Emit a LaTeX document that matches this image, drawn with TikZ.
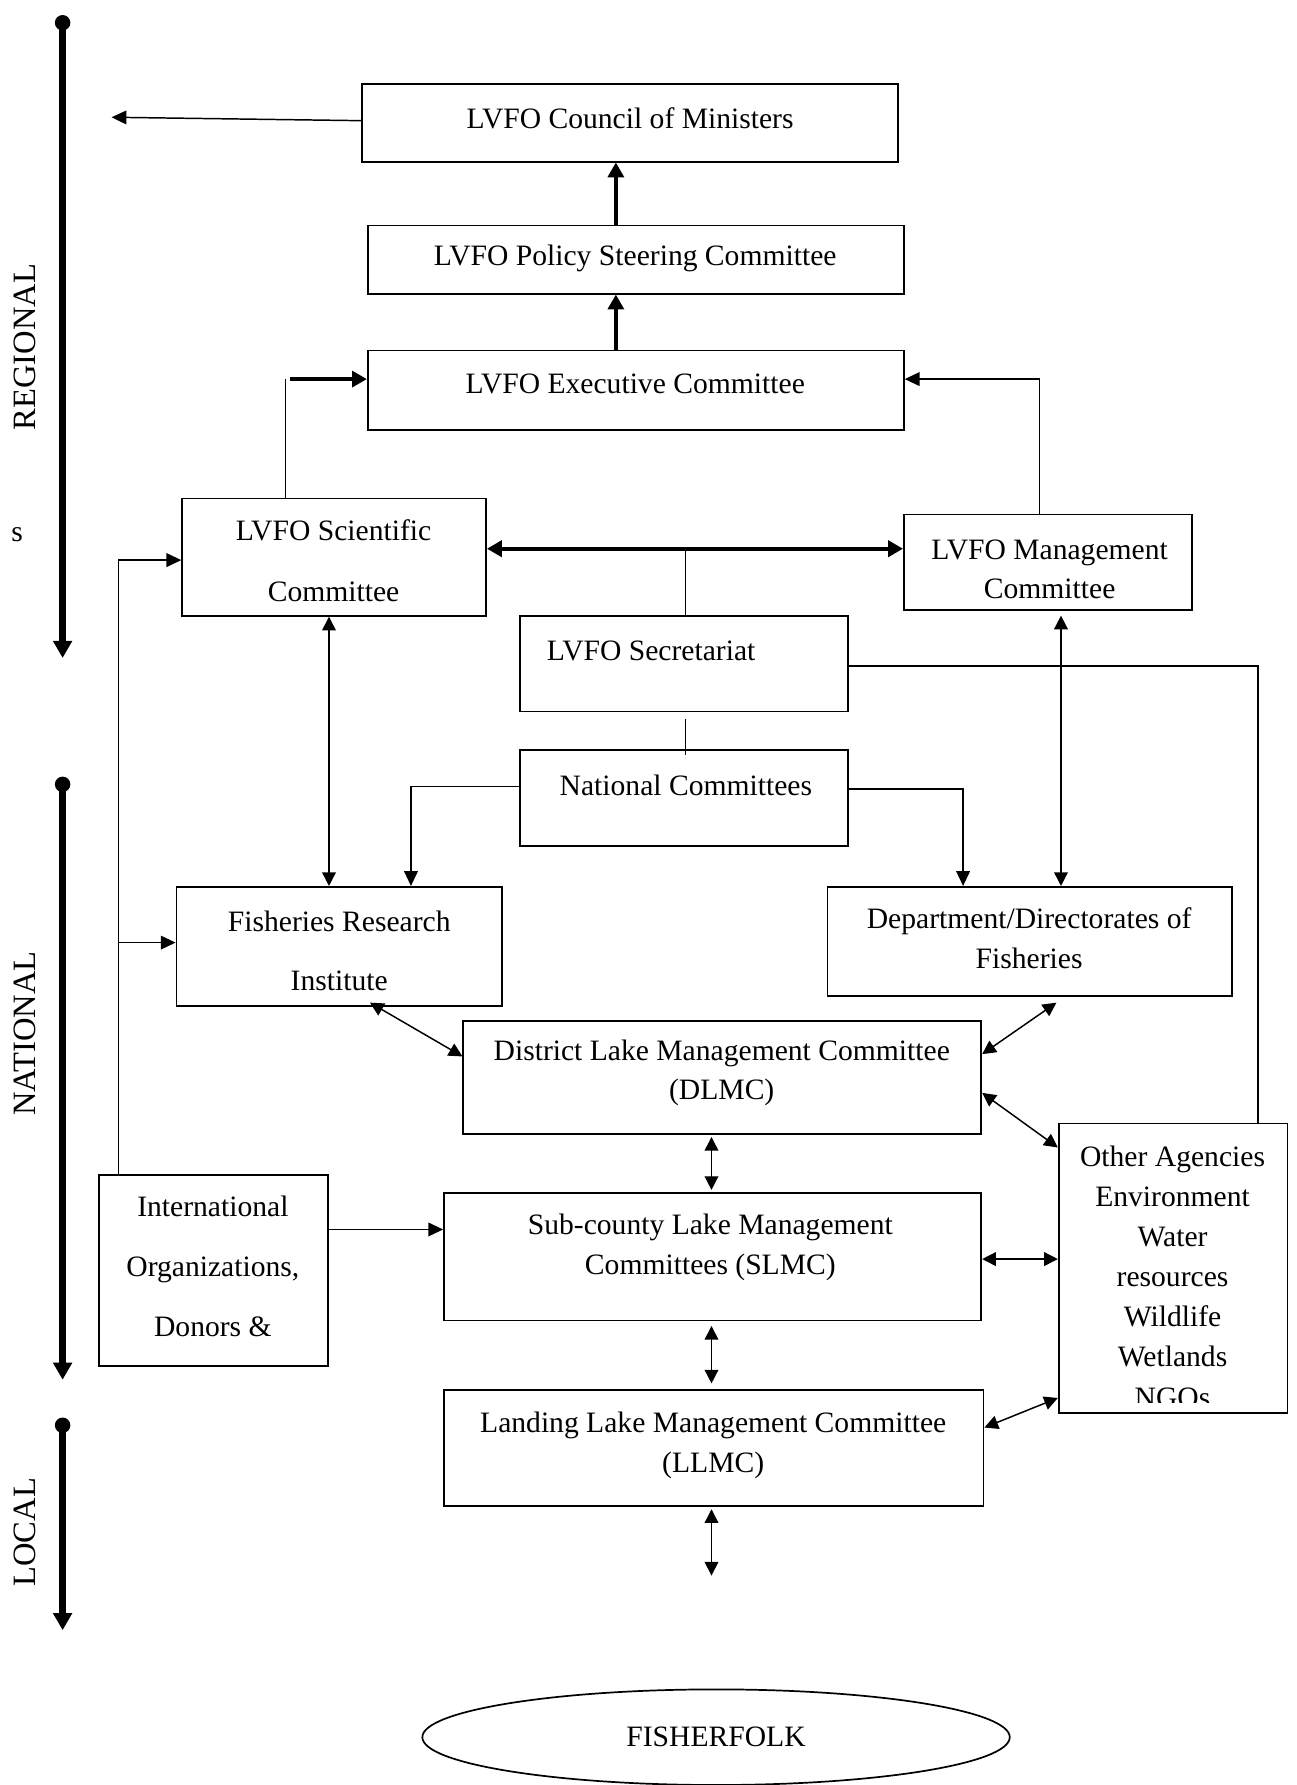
\documentclass[tikz,border=0pt]{standalone}
\usepackage{fontspec}
\setmainfont{Liberation Serif}
\usetikzlibrary{arrows.meta,shapes.geometric}
\begin{document}
\begin{tikzpicture}[x=0.5pt,y=-0.5pt,
  box/.style={draw, line width=0.75pt, inner sep=0pt},
  txt/.style={inner sep=0pt, align=center, font=\fontsize{13}{17.5}\selectfont},
  conn/.style={line width=0.65pt},
  arr/.style={conn, -{Triangle[length=6.5pt,width=6pt]}},
  darr/.style={conn, {Triangle[length=6pt,width=6pt]}-{Triangle[length=6pt,width=6pt]}},
  tarr/.style={line width=1.5pt, -{Triangle[length=6.5pt,width=7pt]}},
  tdarr/.style={line width=1.75pt, {Triangle[length=6.5pt,width=7pt]}-{Triangle[length=6.5pt,width=7pt]}},
  axis/.style={line width=2.9pt, -{Triangle[length=7.5pt,width=8pt]}},
  dot/.style={circle, fill, inner sep=0pt, minimum size=6.8pt},
  lvl/.style={rotate=90, inner sep=0pt, font=\fontsize{14.3}{17}\selectfont},
]
\useasboundingbox (0,0) rectangle (1139,1568);

% ---- level axes ----
\node[dot] (regTop) at (55,20) {};
\coordinate (regEnd) at (55,578);
\draw[axis] (regTop.center) -- (regEnd);
\node[lvl] (regLbl) at (22,305) {REGIONAL};
\node[txt] (sLbl) at (15,470) {s};

\node[dot] (natTop) at (55,689) {};
\coordinate (natEnd) at (55,1212);
\draw[axis] (natTop.center) -- (natEnd);
\node[lvl] (natLbl) at (22,908) {NATIONAL};

\node[dot] (locTop) at (55,1252) {};
\coordinate (locEnd) at (55,1432);
\draw[axis] (locTop.center) -- (locEnd);
\node[lvl] (locLbl) at (22,1346) {LOCAL};

% ---- boxes ----
\node[box, minimum width=235.5pt, minimum height=34pt] (council) at (553.5,108) {};
\node[box, minimum width=235.5pt, minimum height=30pt] (policy) at (558.5,228) {};
\node[box, minimum width=235.5pt, minimum height=35pt] (exec) at (558.5,343) {};
\node[box, minimum width=133.5pt, minimum height=51.5pt] (sci) at (293.5,489.5) {};
\node[box, minimum width=126.5pt, minimum height=42pt] (mgmt) at (920.5,494) {};
\node[box, minimum width=144pt, minimum height=42pt] (sec) at (601,583) {};
\node[box, minimum width=144pt, minimum height=42pt] (nat) at (601,701) {};
\node[box, minimum width=143pt, minimum height=52.5pt] (fri) at (298,831.5) {};
\node[box, minimum width=177.5pt, minimum height=48pt] (dept) at (904.5,827) {};
\node[box, minimum width=227.5pt, minimum height=49.5pt] (dlmc) at (634.5,946.5) {};
\node[box, minimum width=100.5pt, minimum height=127pt] (other) at (1030.5,1114) {};
\node[box, minimum width=100.5pt, minimum height=84pt] (intl) at (187.5,1116) {};
\node[box, minimum width=236pt, minimum height=56pt] (slmc) at (626,1104) {};
\node[box, minimum width=237pt, minimum height=51pt] (llmc) at (627,1272) {};
\node[draw, line width=0.75pt, ellipse, inner sep=0pt, minimum width=258pt, minimum height=42pt,
      font=\fontsize{13}{16}\selectfont] (fish) at (629,1526) {FISHERFOLK};

% ---- texts ----
\node[txt] (councilT) at (553.5,104) {LVFO Council of Ministers};
\node[txt] (policyT) at (558,227) {LVFO Policy Steering Committee};
\node[txt] (execT) at (558,337) {LVFO Executive Committee};
\node[txt] (sciT) at (293,492.5) {LVFO Scientific\\[9pt]Committee};
\node[txt] (mgmtT) at (922,500) {LVFO Management\\[-0.5pt]Committee};
\node[txt] (secT) at (572,572) {LVFO Secretariat};
\node[txt] (natT) at (602.5,690) {National Committees};
\node[txt] (friT) at (298,835) {Fisheries Research\\[8.5pt]Institute};
\node[txt] (deptT) at (904,824.5) {Department/Directorates of\\Fisheries};
\node[txt] (dlmcT) at (634,942.5) {District Lake Management Committee\\(DLMC)};
\node[txt] (intlT) at (187,1112.5) {International\\[8.75pt]Organizations,\\[8.75pt]Donors \&};
\node[txt] (slmcT) at (624,1095.5) {Sub-county Lake Management\\Committees (SLMC)};
\node[txt] (llmcT) at (626.5,1269.5) {Landing Lake Management Committee\\(LLMC)};
\begin{scope}
  \clip (931,988) rectangle (1130,1232);
  \node[txt, font=\fontsize{13}{17.6}\selectfont] (otherT) at (1030,1121.5)
    {Other Agencies\\Environment\\Water\\resources\\Wildlife\\Wetlands\\NGOs};
\end{scope}

% ---- connectors ----
\coordinate (cmEnd) at (98,103);
\draw[arr] (council.west |- 0,106) -- (cmEnd);
\draw[tarr] (policy.north -| 541,0) -- (council.south -| 541,0);
\draw[tarr] (exec.north -| 541,0) -- (policy.south -| 541,0);

\coordinate (sciUp) at (251,333);
\draw[conn] (sci.north -| sciUp) -- (sciUp);
\draw[tarr] ([xshift=2pt]sciUp) -- (exec.west |- sciUp);
\draw[arr] (mgmt.north -| 913,0) |- (exec.east |- sciUp);

\draw[tdarr] (sci.east |- 0,482) -- (mgmt.west |- 0,482);
\coordinate (bus) at (602,482);
\draw[conn] (sec.north -| bus) -- (bus);
\draw[conn] ([yshift=-3pt]sec.south -| bus) -- ([yshift=-2.5pt]nat.north -| bus);
\draw[conn] (sec.east |- 0,585) -| (other.north -| 1105,0);

\draw[arr] (nat.west |- 0,691) -| (fri.north -| 361,0);
\draw[arr] (nat.east |- 0,693) -| (dept.north -| 846,0);

\draw[darr] (sci.south -| 289,0) -- (fri.north -| 289,0);
\draw[darr] ([yshift=-2pt]mgmt.south -| 932,0) -- (dept.north -| 932,0);

\coordinate (branch) at (104,828);
\draw[arr] (intl.north -| branch) |- (sci.west |- 0,492);
\draw[arr] (branch) -- (fri.west |- branch);
\draw[arr] (intl.east |- 0,1080) -- (slmc.west |- 0,1080);

\draw[darr] ([yshift=2pt]fri.south -| 325,0) -- (dlmc.west |- 0,928);
\draw[darr] ([yshift=-2.5pt]dept.south -| 928,0) -- (dlmc.east |- 0,926);
\draw[darr] (dlmc.east |- 0,960) -- (other.west |- 0,1008);
\draw[darr] (slmc.east |- 0,1106) -- (other.west |- 0,1106);
\draw[darr] (llmc.east |- 0,1254) -- (other.west |- 0,1228);
\draw[darr] ([yshift=-1pt]dlmc.south -| 625,0) -- ([yshift=1pt]slmc.north -| 625,0);
\draw[darr] ([yshift=-2pt]slmc.south -| 625,0) -- ([yshift=2.5pt]llmc.north -| 625,0);
\coordinate (llEnd) at (625,1384);
\draw[darr] ([yshift=-1pt]llmc.south -| 625,0) -- (llEnd);
\end{tikzpicture}
\end{document}
